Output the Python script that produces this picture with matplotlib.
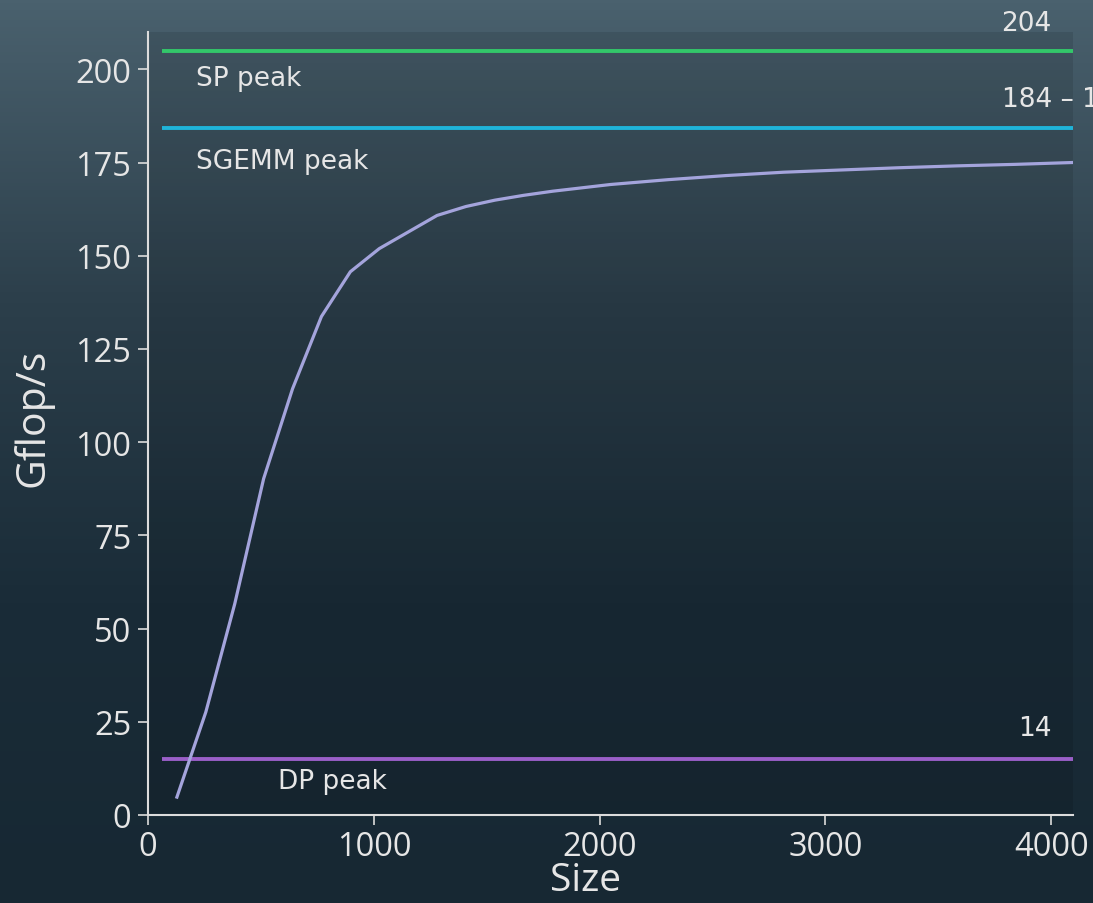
import numpy as np
import matplotlib
matplotlib.use("Agg")
import matplotlib.pyplot as plt
from matplotlib.colors import LinearSegmentedColormap

# measured SGEMM throughput vs matrix size
sizes = [128, 256, 384, 512, 640, 768, 896, 1024, 1280, 1408, 1536, 1664, 1792,
         2048, 2304, 2560, 2816, 3072, 3328, 3584, 3840, 4096]
gflops = [4.8, 27.6, 56.6, 90.2, 114.3, 133.7, 145.7, 151.9, 160.8, 163.2, 164.9,
          166.2, 167.3, 169.1, 170.4, 171.5, 172.4, 173.0, 173.6, 174.1, 174.5, 175.0]

# peaks: (value, name, number label)
peak_vals = [204.8, 184.3, 15.0]
peak_names = ["SP peak", "SGEMM peak", "DP peak"]
peak_labels = ["204", "184 \u2013 192", "14"]
peak_colors = ["#33c76a", "#1fb4da", "#9a5fc8"]

W, H = 1093, 904
fig = plt.figure(figsize=(W / 100, H / 100), dpi=100)

# background gradient
bg = fig.add_axes([0, 0, 1, 1], zorder=-10)
bg.axis("off")
cmap = LinearSegmentedColormap.from_list("bg", ["#4a616e", "#2c3f4b", "#1a2c38", "#172833"])
grad = np.linspace(0, 1, 256).reshape(-1, 1)
bg.imshow(grad, aspect="auto", cmap=cmap, extent=[0, 1, 0, 1])

ax = fig.add_axes([148 / W, 1 - 816 / H, 925 / W, 783 / H])
ax.set_facecolor((0, 0, 0, 0.10))

ax.plot(sizes, gflops, color="#a4a4dc", lw=2.3, zorder=3)

text_c = "#e6e6e6"
fs = 19
name_pos = [(212, -7.2), (212, -9.0), (575, -5.9)]
for v, name, lab, c, (nx, dy) in zip(peak_vals, peak_names, peak_labels, peak_colors, name_pos):
    ax.hlines(v, 64, 4096, color=c, lw=2.8, zorder=2)
    ax.text(nx, v + dy, name, color=text_c, fontsize=fs, va="center", ha="left",
            family="DejaVu Sans")

ax.text(4000, peak_vals[0] + 5.8, peak_labels[0], color=text_c, fontsize=fs,
        ha="right", va="baseline", clip_on=False)
ax.text(3783, peak_vals[1] + 5.8, peak_labels[1], color=text_c, fontsize=fs,
        ha="left", va="baseline", clip_on=False)
ax.text(4000, peak_vals[2] + 6.5, peak_labels[2], color=text_c, fontsize=fs,
        ha="right", va="baseline", clip_on=False)

ax.set_xlim(0, 4096)
ax.set_ylim(0, 210)
ax.set_xticks([0, 1000, 2000, 3000, 4000])
ax.set_yticks([0, 25, 50, 75, 100, 125, 150, 175, 200])

for s in ["top", "right"]:
    ax.spines[s].set_visible(False)
for s in ["left", "bottom"]:
    ax.spines[s].set_color("#dcdcdc")
    ax.spines[s].set_linewidth(1.5)

ax.tick_params(colors="#dcdcdc", labelcolor=text_c, length=7, width=1.2, labelsize=23.5)
ax.tick_params(axis="x", pad=4)
ax.tick_params(axis="y", pad=5)
for t in ax.get_xticklabels() + ax.get_yticklabels():
    t.set_family("Open Sans")

ax.set_xlabel("Size", color=text_c, fontsize=28, family="Open Sans")
ax.set_ylabel("Gflop/s", color=text_c, fontsize=29.5, family="Open Sans")
ax.xaxis.set_label_coords((585 - 148) / 925, (816 - 881) / 783)
ax.yaxis.set_label_coords((33 - 148) / 925, (816 - 418) / 783)
ax.xaxis.label.set_va("center")
ax.yaxis.label.set_va("center")

fig.savefig("out.png", dpi=100)
